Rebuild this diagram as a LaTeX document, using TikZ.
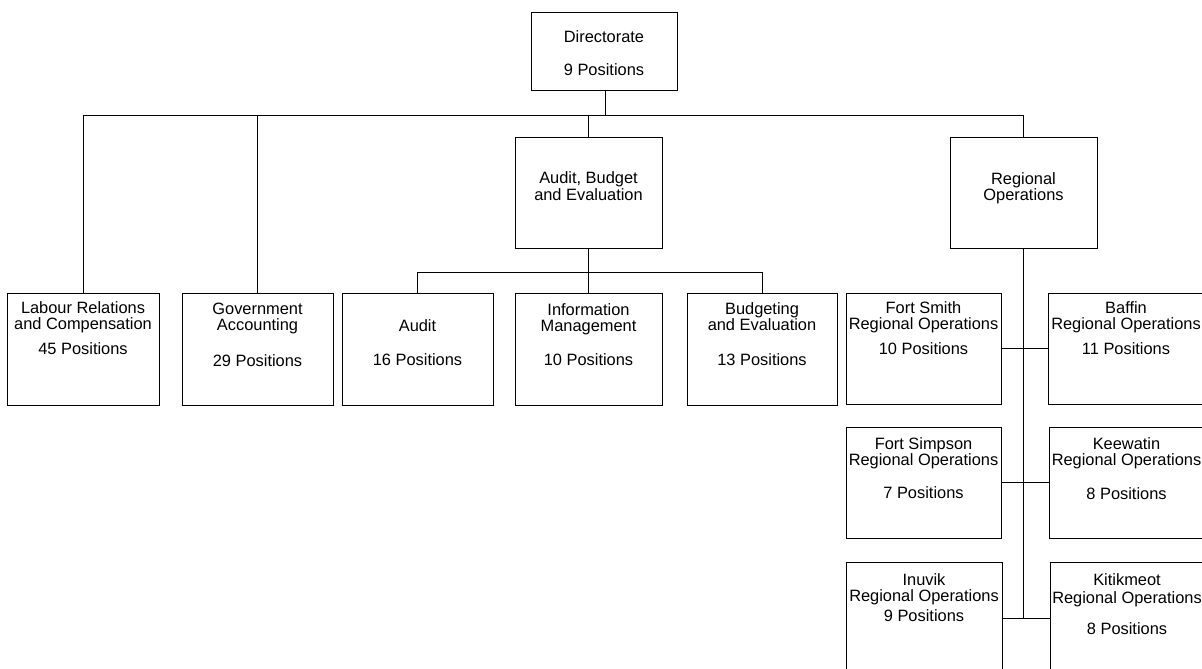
\documentclass[tikz,border=0pt]{standalone}
\usepackage{fontspec}
\setmainfont{Liberation Sans}
\usetikzlibrary{fit}
\begin{document}
\begin{tikzpicture}[x=1pt,y=-1pt,
  unitbox/.style={draw=black, line width=0.8pt, inner sep=0pt, outer sep=0pt, fill=none},
  txt/.style={anchor=base, inner sep=0pt, font=\fontsize{16.4}{16.4}\selectfont},
  link/.style={draw=black, line width=0.8pt}]
\useasboundingbox[fill=white] (0,0) rectangle (1202,669);

% organisational units (corner coordinates)
\newcommand\unit[5]{\node[unitbox, fit={(#2,#3) (#4,#5)}] (#1) {};}
\unit{dir}{531}{12}{677}{90}
\unit{abe}{515}{137}{662}{248}
\unit{reg}{950}{137}{1097}{248}
\unit{lab}{7}{293}{159}{405}
\unit{gov}{182}{293}{333}{405}
\unit{aud}{342}{293}{493}{405}
\unit{inf}{515}{293}{662}{405}
\unit{bud}{687}{293}{837}{405}
\unit{fsm}{846}{293}{1001}{404}
\unit{baf}{1048}{293}{1204}{404}
\unit{fsp}{846}{427}{1001}{538}
\unit{kee}{1049}{427}{1204}{538}
\unit{inu}{846}{562}{1002}{674}
\unit{kit}{1050}{562}{1204}{674}

% one line of text, centred on a unit at a given baseline
\newcommand\tl[3]{\node[txt] at (#1.center |- 0,#2) {#3};}
\tl{dir}{43}{Directorate}
\tl{dir}{76}{9 Positions}
\tl{abe}{183}{Audit, Budget}
\tl{abe}{200}{and Evaluation}
\tl{reg}{184}{Regional}
\tl{reg}{200}{Operations}
\tl{lab}{313}{Labour Relations}
\tl{lab}{329}{and Compensation}
\tl{lab}{354}{45 Positions}
\tl{gov}{314}{Government}
\tl{gov}{330}{Accounting}
\tl{gov}{366}{29 Positions}
\tl{aud}{331}{Audit}
\tl{aud}{365}{16 Positions}
\tl{inf}{315}{Information}
\tl{inf}{331}{Management}
\tl{inf}{365}{10 Positions}
\tl{bud}{314}{Budgeting}
\tl{bud}{330}{and Evaluation}
\tl{bud}{365}{13 Positions}
\tl{fsm}{313}{Fort Smith}
\tl{fsm}{329}{Regional Operations}
\tl{fsm}{354}{10 Positions}
\tl{baf}{313}{Baffin}
\tl{baf}{329}{Regional Operations}
\tl{baf}{354}{11 Positions}
\tl{fsp}{449}{Fort Simpson}
\tl{fsp}{465}{Regional Operations}
\tl{fsp}{498}{7 Positions}
\tl{kee}{449}{Keewatin}
\tl{kee}{465}{Regional Operations}
\tl{kee}{499}{8 Positions}
\tl{inu}{585}{Inuvik}
\tl{inu}{601}{Regional Operations}
\tl{inu}{621}{9 Positions}
\tl{kit}{585}{Kitikmeot}
\tl{kit}{603}{Regional Operations}
\tl{kit}{634}{8 Positions}

% top-level branch line
\coordinate (bar) at (0,115);
\coordinate (dirdrop) at (605,90);
\draw[link] (dirdrop) -- (dirdrop |- bar);
\draw[link] (lab.north |- bar) -- (reg.north |- bar);
\foreach \u in {lab,gov,abe,reg}
  \draw[link] (\u.north |- bar) -- (\u.north);

% Audit, Budget and Evaluation branch
\coordinate (subbar) at (0,272);
\draw[link] (aud.north |- subbar) -- (bud.north |- subbar);
\draw[link] (abe.south) -- (inf.north);
\draw[link] (aud.north |- subbar) -- (aud.north);
\draw[link] (bud.north |- subbar) -- (bud.north);

% regional spine
\draw[link] (reg.south) -- (reg.south |- inu.east);
\draw[link] (fsm.east) -- (baf.west |- fsm.east);
\draw[link] (fsp.east) -- (kee.west |- fsp.east);
\draw[link] (inu.east) -- (kit.west |- inu.east);
\end{tikzpicture}
\end{document}
